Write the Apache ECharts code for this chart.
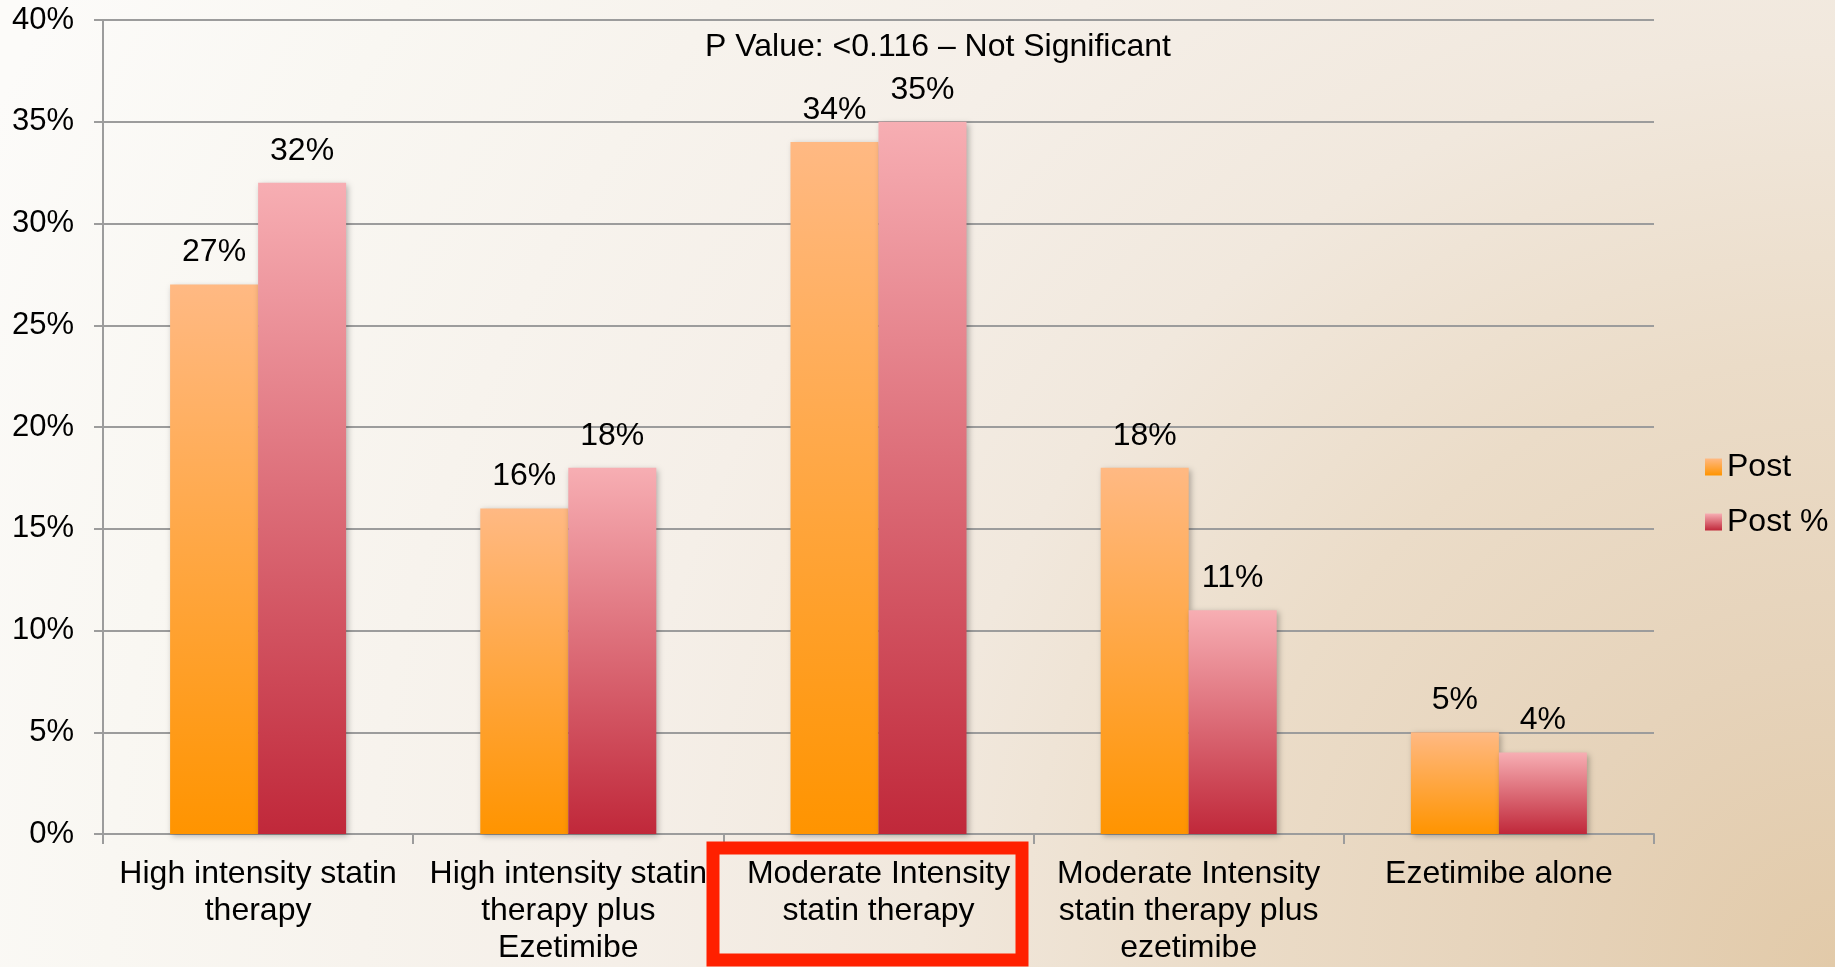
<!DOCTYPE html>
<html>
<head>
<meta charset="utf-8">
<title>Statin therapy distribution</title>
<script src="https://cdn.jsdelivr.net/npm/echarts@6/dist/echarts.min.js"></script>
<style>
  html, body { margin: 0; padding: 0; width: 100%; height: 100%; overflow: hidden; }
  #chart { width: 1835px; height: 967px; }
</style>
</head>
<body>
<div id="chart"></div>
<script>
// Therapy groups shown along the x axis
const categories = [
  'High intensity statin\ntherapy',
  'High intensity statin\ntherapy plus\nEzetimibe',
  'Moderate Intensity\nstatin therapy',
  'Moderate Intensity\nstatin therapy plus\nezetimibe',
  'Ezetimibe alone'
];
// Percent of patients per group
const postValues = [27, 16, 34, 18, 5];
const postPctValues = [32, 18, 35, 11, 4];
const seriesNames = ['Post', 'Post %'];
const yTicks = { min: 0, max: 40, step: 5 };
const pValueNote = 'P Value: <0.116 \u2013 Not Significant';

const FONT = '"Liberation Sans", Arial, Helvetica, sans-serif';
const GRID_GRAY = '#9c9c9c';

const chart = echarts.init(document.getElementById('chart'), null, { renderer: 'canvas' });

function barGradient(top, bottom) {
  return new echarts.graphic.LinearGradient(0, 0, 0, 1, [
    { offset: 0, color: top },
    { offset: 1, color: bottom }
  ]);
}

const barShadow = {
  shadowColor: 'rgba(0,0,0,0.28)',
  shadowBlur: 6,
  shadowOffsetX: 2,
  shadowOffsetY: 2
};

const valueLabel = {
  show: true,
  position: 'top',
  distance: 16,
  formatter: '{c}%',
  fontSize: 32,
  fontFamily: FONT,
  color: '#000'
};

chart.setOption({
  animation: false,
  backgroundColor: {
    type: 'radial', x: 1, y: 1, r: 2.1,
    colorStops: [
      { offset: 0, color: '#e2caa9' },
      { offset: 0.15, color: '#e6d3ba' },
      { offset: 0.3, color: '#ebdcc8' },
      { offset: 0.45, color: '#f1e8dd' },
      { offset: 0.6, color: '#f5efe8' },
      { offset: 0.85, color: '#f9f7f2' },
      { offset: 1, color: '#fcfbf9' }
    ]
  },
  textStyle: { fontFamily: FONT },
  grid: { left: 103, right: 181, top: 20, bottom: 122, containLabel: false },
  legend: {
    data: seriesNames,
    orient: 'vertical',
    left: 1700,
    top: 446,
    itemWidth: 17,
    itemHeight: 17,
    itemGap: 23,
    icon: 'rect',
    textStyle: { fontSize: 32, lineHeight: 32, color: '#000', fontFamily: FONT }
  },
  xAxis: {
    type: 'category',
    data: categories,
    axisLine: { show: true, lineStyle: { color: GRID_GRAY, width: 2 } },
    axisTick: { show: true, length: 10, lineStyle: { color: GRID_GRAY, width: 2 } },
    axisLabel: {
      interval: 0,
      margin: 22,
      fontSize: 32,
      lineHeight: 37,
      color: '#000',
      fontFamily: FONT,
      align: 'center'
    }
  },
  yAxis: {
    type: 'value',
    min: yTicks.min,
    max: yTicks.max,
    interval: yTicks.step,
    axisLine: { show: true, lineStyle: { color: GRID_GRAY, width: 2 } },
    axisTick: { show: true, length: 9, lineStyle: { color: GRID_GRAY, width: 2 } },
    splitLine: { show: true, lineStyle: { color: GRID_GRAY, width: 2 } },
    axisLabel: {
      formatter: '{value}%',
      margin: 29,
      fontSize: 31,
      color: '#000',
      fontFamily: FONT
    }
  },
  series: [
    {
      name: seriesNames[0],
      type: 'bar',
      data: postValues,
      barWidth: 88,
      barGap: '0%',
      itemStyle: Object.assign({ color: barGradient('#ffb983', '#ff9400') }, barShadow),
      label: valueLabel,
      z: 3
    },
    {
      name: seriesNames[1],
      type: 'bar',
      data: postPctValues,
      barWidth: 88,
      barGap: '0%',
      itemStyle: Object.assign({ color: barGradient('#f7aeb3', '#c0283a') }, barShadow),
      label: valueLabel,
      z: 3
    }
  ],
  graphic: [
    {
      type: 'text',
      x: 938,
      y: 47,
      z: 10,
      style: {
        text: pValueNote,
        fontSize: 32,
        fontFamily: FONT,
        fill: '#000',
        textAlign: 'center',
        textVerticalAlign: 'middle'
      }
    },
    {
      // highlight frame around the moderate-intensity group label
      type: 'rect',
      z: 10,
      shape: { x: 713, y: 848, width: 309, height: 112 },
      style: { fill: null, stroke: '#ff2000', lineWidth: 13 }
    }
  ]
});
</script>
</body>
</html>
